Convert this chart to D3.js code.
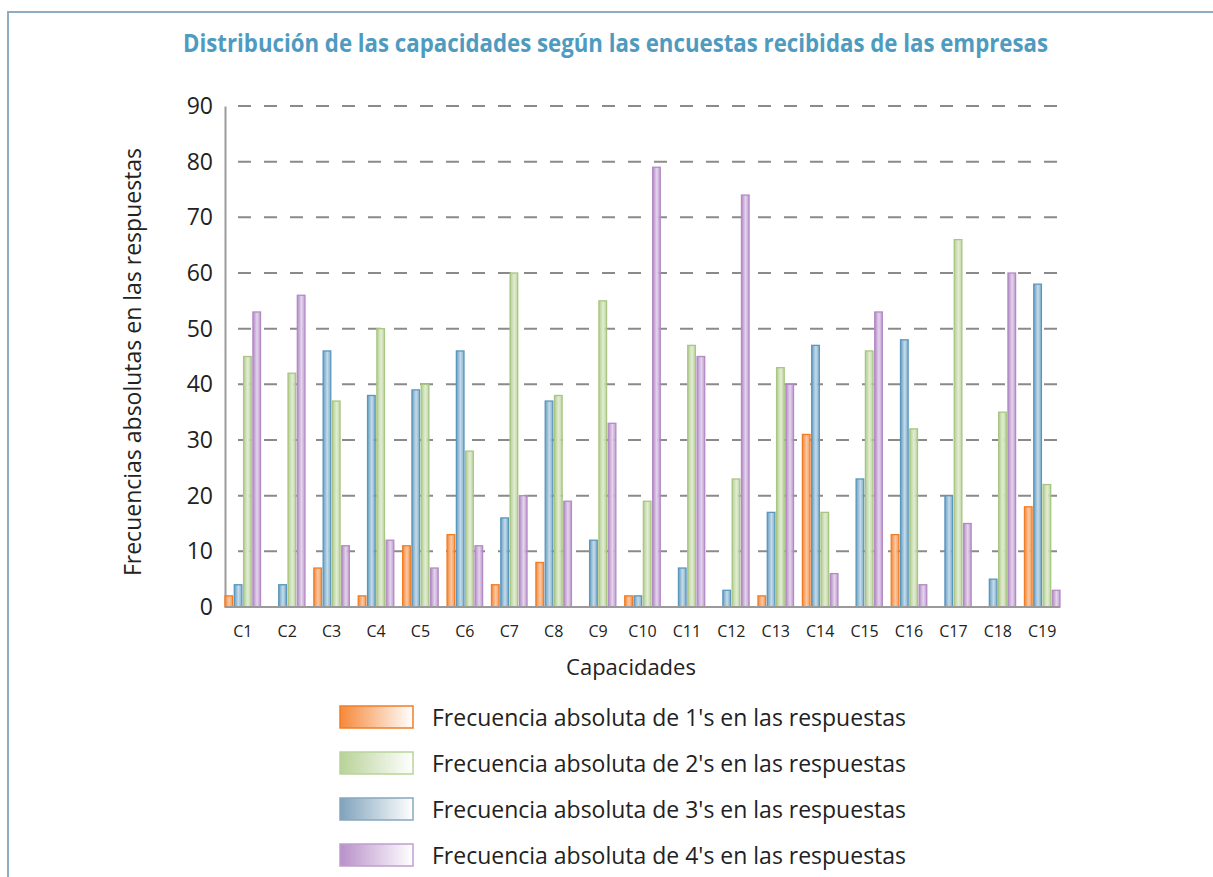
<!DOCTYPE html>
<html>
<head>
<meta charset="utf-8">
<script src="https://cdn.jsdelivr.net/npm/d3@7"></script>
<style>
  body { margin: 0; background: #fff; }
  svg { display: block; font-family: "Open Sans", sans-serif; }
</style>
</head>
<body>
<div id="chart"></div>
<script>
// capacidades
var categories = ["C1","C2","C3","C4","C5","C6","C7","C8","C9","C10","C11","C12","C13","C14","C15","C16","C17","C18","C19"];

// frecuencia absoluta de cada respuesta
var freq1 = [2, 0, 7, 2, 11, 13, 4, 8, 0, 2, 0, 0, 2, 31, 0, 13, 0, 0, 18];
var freq2 = [45, 42, 37, 50, 40, 28, 60, 38, 55, 19, 47, 23, 43, 17, 46, 32, 66, 35, 22];
var freq3 = [4, 4, 46, 38, 39, 46, 16, 37, 12, 2, 7, 3, 17, 47, 23, 48, 20, 5, 58];
var freq4 = [53, 56, 11, 12, 7, 11, 20, 19, 33, 79, 45, 74, 40, 6, 53, 4, 15, 60, 3];

var yTicks = [0, 10, 20, 30, 40, 50, 60, 70, 80, 90];

var legendLabels = [
  "Frecuencia absoluta de 1's en las respuestas",
  "Frecuencia absoluta de 2's en las respuestas",
  "Frecuencia absoluta de 3's en las respuestas",
  "Frecuencia absoluta de 4's en las respuestas"
];

// series in the order the bars sit inside a group: 1, 3, 2, 4
var series = [
  { key: "s1", values: freq1, base: "#f5873a", light: "#fbc9a3", stroke: "#f27d24" },
  { key: "s3", values: freq3, base: "#6a9fc2", light: "#c5dcea", stroke: "#5a97bd" },
  { key: "s2", values: freq2, base: "#b3ce91", light: "#e2edd4", stroke: "#a8c682" },
  { key: "s4", values: freq4, base: "#b389c6", light: "#e5d6ec", stroke: "#b48ac5" }
];
// legend order: 1, 2, 3, 4
var legendSeries = [
  { base: "#f5893a", stroke: "#f27d24" },
  { base: "#b8d297", stroke: "#b8d39a" },
  { base: "#7fa3bb", stroke: "#87a8bf" },
  { base: "#b890c9", stroke: "#c09ed0" }
];

var W = 1213, H = 877;
var plotLeft = 225, plotRight = 1060, plotTop = 106, plotBottom = 607;

var svg = d3.select("#chart").append("svg")
  .attr("width", W).attr("height", H);

var defs = svg.append("defs");
series.forEach(function (s) {
  var g = defs.append("linearGradient").attr("id", "bar-" + s.key)
    .attr("x1", 0).attr("x2", 1).attr("y1", 0).attr("y2", 0);
  g.append("stop").attr("offset", "0%").attr("stop-color", s.base);
  g.append("stop").attr("offset", "55%").attr("stop-color", s.light);
  g.append("stop").attr("offset", "100%").attr("stop-color", s.base).attr("stop-opacity", 0.8);
});
legendSeries.forEach(function (s, i) {
  var g = defs.append("linearGradient").attr("id", "leg-" + i)
    .attr("x1", 0).attr("x2", 1).attr("y1", 0).attr("y2", 0);
  g.append("stop").attr("offset", "0%").attr("stop-color", s.base);
  g.append("stop").attr("offset", "100%").attr("stop-color", "#ffffff");
});

// frame lines
svg.append("line").attr("x1", 8).attr("x2", W).attr("y1", 12).attr("y2", 12)
  .attr("stroke", "#8eacc2").attr("stroke-width", 2);
svg.append("line").attr("x1", 8).attr("x2", 8).attr("y1", 11).attr("y2", H)
  .attr("stroke", "#8eacc2").attr("stroke-width", 2);

// title
svg.append("text")
  .attr("x", 183).attr("y", 52)
  .attr("textLength", 865).attr("lengthAdjust", "spacingAndGlyphs")
  .attr("font-size", 25).attr("font-weight", "bold").attr("fill", "#4f9bc0")
  .text("Distribución de las capacidades según las encuestas recibidas de las empresas");

var x0 = d3.scaleBand().domain(categories).range([plotLeft, plotRight])
  .paddingInner(0.2).paddingOuter(0);
var x1 = d3.scaleBand().domain(series.map(function (s) { return s.key; }))
  .range([0, x0.bandwidth()]).paddingInner(0.18);
var y = d3.scaleLinear().domain([0, 90]).range([plotBottom, plotTop]);

// gridlines
svg.append("g").selectAll("line")
  .data(yTicks.filter(function (d) { return d > 0; }))
  .enter().append("line")
  .attr("x1", plotLeft).attr("x2", plotRight)
  .attr("y1", function (d) { return y(d); }).attr("y2", function (d) { return y(d); })
  .attr("stroke", "#8a8a8a").attr("stroke-width", 2)
  .attr("stroke-dasharray", "13,13").attr("stroke-dashoffset", 13);

// y axis
var yAxis = svg.append("g").attr("transform", "translate(" + plotLeft + ",0)")
  .call(d3.axisLeft(y).tickValues(yTicks).tickSize(0).tickPadding(12));
yAxis.select(".domain").attr("stroke", "#9a9a9a").attr("stroke-width", 2);
yAxis.selectAll("text").attr("font-size", 23).attr("fill", "#222")
  .attr("font-family", "Open Sans, sans-serif");

// bars
var groups = svg.append("g").selectAll("g")
  .data(categories).enter().append("g")
  .attr("transform", function (c) { return "translate(" + x0(c) + ",0)"; });

groups.selectAll("rect")
  .data(function (c, i) {
    return series.map(function (s) { return { key: s.key, s: s, v: s.values[i] }; })
      .filter(function (d) { return d.v > 0; });
  })
  .enter().append("rect")
  .attr("x", function (d) { return x1(d.key); })
  .attr("width", x1.bandwidth())
  .attr("y", function (d) { return y(d.v); })
  .attr("height", function (d) { return plotBottom - y(d.v); })
  .attr("fill", function (d) { return "url(#bar-" + d.key + ")"; })
  .attr("stroke", function (d) { return d.s.stroke; })
  .attr("stroke-width", 1.3);

// x axis
var xAxis = svg.append("g").attr("transform", "translate(0," + plotBottom + ")")
  .call(d3.axisBottom(x0).tickSize(0).tickPadding(19));
xAxis.select(".domain").remove();
xAxis.selectAll("text").attr("font-size", 16).attr("fill", "#222")
  .attr("font-family", "Open Sans, sans-serif");
svg.append("line").attr("x1", plotLeft).attr("x2", plotRight)
  .attr("y1", plotBottom).attr("y2", plotBottom)
  .attr("stroke", "#9a9a9a").attr("stroke-width", 2);

// axis titles
svg.append("text").attr("x", 631).attr("y", 675).attr("text-anchor", "middle")
  .attr("font-size", 22).attr("fill", "#222").text("Capacidades");
svg.append("text")
  .attr("transform", "translate(141,362) rotate(-90)")
  .attr("text-anchor", "middle").attr("font-size", 23).attr("fill", "#222")
  .text("Frecuencias absolutas en las respuestas");

// legend
var legend = svg.append("g").selectAll("g")
  .data(legendLabels).enter().append("g")
  .attr("transform", function (d, i) { return "translate(340," + (706 + i * 46) + ")"; });
legend.append("rect")
  .attr("width", 73).attr("height", 22)
  .attr("fill", function (d, i) { return "url(#leg-" + i + ")"; })
  .attr("stroke", function (d, i) { return legendSeries[i].stroke; })
  .attr("stroke-width", 1.5);
legend.append("text")
  .attr("x", 92).attr("y", 20)
  .attr("font-size", 23).attr("fill", "#222")
  .attr("textLength", 474).attr("lengthAdjust", "spacingAndGlyphs")
  .text(function (d) { return d; });
</script>
</body>
</html>
